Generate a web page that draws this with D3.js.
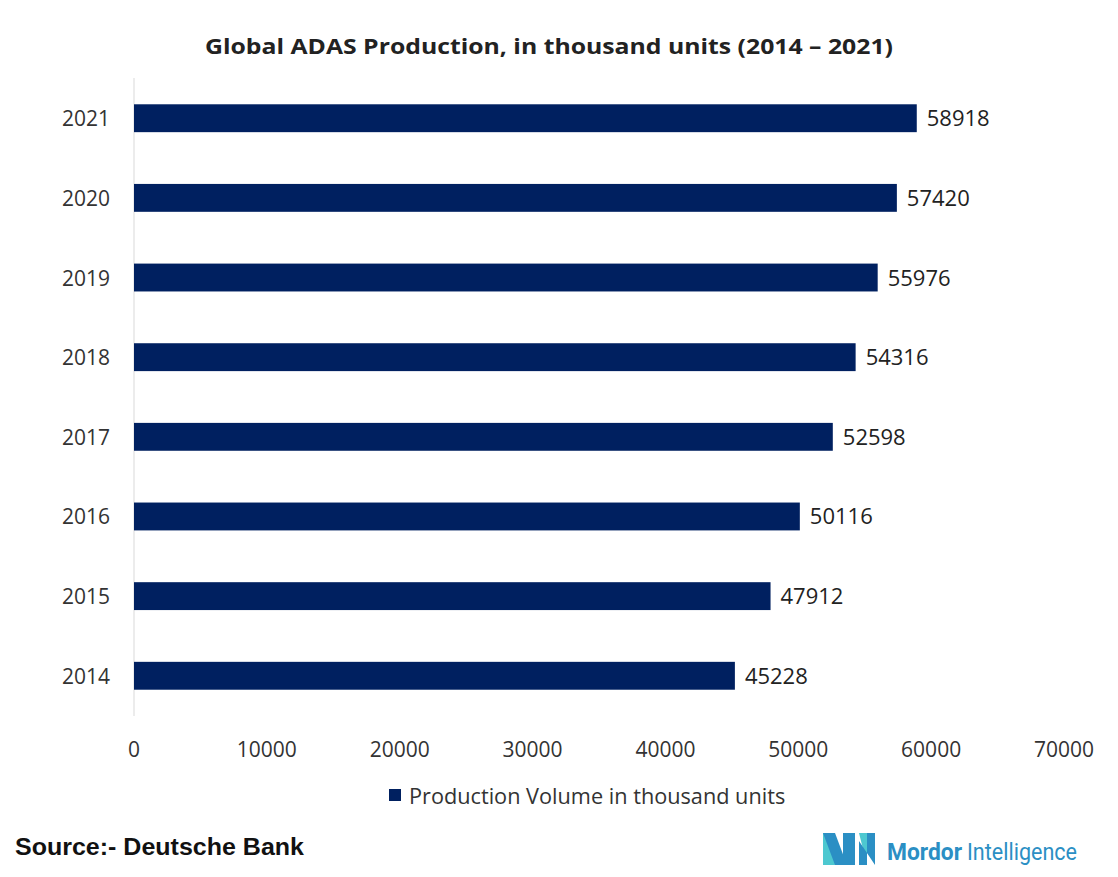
<!DOCTYPE html><html><head><meta charset="utf-8"><script src="https://cdn.jsdelivr.net/npm/d3@7"></script>
<style>body{margin:0;background:#fff}svg{font-family:"Open Sans",Calibri,sans-serif}</style></head><body><svg id="c" width="1118" height="877"></svg>
<script>
const years=["2014","2015","2016","2017","2018","2019","2020","2021"];
const values=[45228,47912,50116,52598,54316,55976,57420,58918];
const xTicks=[0,10000,20000,30000,40000,50000,60000,70000];
const svg=d3.select("#c");
const x=d3.scaleLinear().domain([0,70000]).range([134,1064]);
const y=d3.scaleBand().domain(years.slice().reverse()).range([78,716]).paddingInner(0.65).paddingOuter(0.33);
svg.append("text").attr("x",549).attr("y",54).attr("text-anchor","middle").attr("font-size",21).attr("font-weight","bold").attr("fill","#222").attr("textLength",688).attr("lengthAdjust","spacingAndGlyphs").text("Global ADAS Production, in thousand units (2014 – 2021)");
svg.append("line").attr("x1",134).attr("x2",134).attr("y1",78).attr("y2",716).attr("stroke","#d9d9d9");
svg.selectAll("rect.b").data(years).join("rect").attr("x",x(0)).attr("y",d=>y(d)).attr("height",y.bandwidth()).attr("width",(d,i)=>x(values[i])-x(0)).attr("fill","#002060");
svg.selectAll("text.v").data(years).join("text").attr("x",(d,i)=>x(values[i])+10).attr("y",d=>y(d)+y.bandwidth()/2+8).attr("font-size",22).attr("fill","#222").text((d,i)=>values[i]);
svg.selectAll("text.c").data(years).join("text").attr("x",110).attr("y",d=>y(d)+y.bandwidth()/2+8).attr("text-anchor","end").attr("font-size",21).attr("fill","#333").text(d=>d);
svg.selectAll("text.t").data(xTicks).join("text").attr("x",d=>x(d)).attr("y",757).attr("text-anchor","middle").attr("font-size",21).attr("fill","#333").text(d=>d);
svg.append("rect").attr("x",389).attr("y",789).attr("width",12).attr("height",12).attr("fill","#002060");
svg.append("text").attr("x",409).attr("y",804).attr("font-size",21.7).attr("fill","#333").text("Production Volume in thousand units");
svg.append("text").attr("x",15).attr("y",855).attr("font-size",23).attr("font-weight","bold").style("font-family","'Liberation Sans', Arial, sans-serif").attr("fill","#111").attr("textLength",289).attr("lengthAdjust","spacingAndGlyphs").text("Source:- Deutsche Bank");
const g=svg.append("g").attr("transform","translate(823,833)");
g.append("polygon").attr("points","0,0 10,0 22,32 0,32").attr("fill","#4dc8d0");
g.append("polygon").attr("points","0,0 12,0 24,32 12,32").attr("fill","#2b8fc4");
g.append("polygon").attr("points","20,0 32,0 32,32 20,32").attr("fill","#2b8fc4");
g.append("polygon").attr("points","36,0 44,0 44,32").attr("fill","#4dc8d0");
g.append("polygon").attr("points","36,8 52,32 52,0 44,0 44,32 36,32").attr("fill","#2b8fc4");
svg.append("text").attr("x",887).attr("y",860).attr("font-size",24).attr("font-weight","bold").attr("fill","#2b8fc4").style("font-family","Roboto").attr("textLength",75).attr("lengthAdjust","spacingAndGlyphs").text("Mordor");
svg.append("text").attr("x",967).attr("y",860).attr("font-size",24).attr("fill","#2b8fc4").style("font-family","Roboto").attr("textLength",110).attr("lengthAdjust","spacingAndGlyphs").text("Intelligence");
</script></body></html>
